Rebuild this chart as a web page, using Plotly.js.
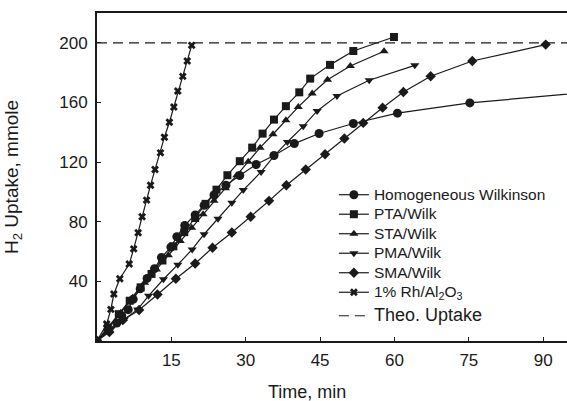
<!DOCTYPE html>
<html>
<head>
<meta charset="utf-8">
<script src="https://cdn.plot.ly/plotly-3.0.1.min.js"></script>
<style>html,body{margin:0;padding:0;background:#fff;}#chart{width:567px;height:401px;}</style>
</head>
<body>
<div id="chart"></div>
<script>
// Homogeneous Wilkinson (circles)
const homX = [0, 2.2, 4, 5, 6.3, 7.3, 8.7, 10.1, 11.6, 13, 14.9, 16.1, 17.7, 19.8, 21.6, 23.6, 26, 28.8, 32.1, 35.7, 39.8, 44.8, 51.7, 60.6, 75.2, 105];
const homY = [0, 7, 12, 17, 21, 28, 35, 42, 48.5, 56, 63, 70, 77.5, 84.5, 91, 98, 104.5, 111, 118.4, 124.4, 132.4, 139.2, 145.9, 152.8, 159.7, 168.6];
// PTA/Wilk (squares)
const ptaX = [0, 2.2, 4.4, 6.6, 8.8, 11, 13.2, 15.4, 17.6, 19.8, 21.9, 24.1, 26.3, 28.8, 31.3, 33.4, 35.7, 38.1, 40.8, 43, 47, 51.7, 59.9];
const ptaY = [0, 9, 18, 27, 36, 45, 54, 63.5, 73, 82.5, 92, 101.5, 111.2, 120.6, 129.7, 139.1, 148.5, 157.5, 166.8, 176, 185.2, 194.5, 203.9];
// STA/Wilk (triangles up)
const staX = [0, 2.4, 4.8, 7.2, 9.6, 12, 14.4, 16.8, 19.1, 21.4, 23.6, 25.9, 28.2, 30.5, 32.9, 35.5, 38.1, 40.6, 43.4, 46.5, 51.1, 57.9];
const staY = [0, 9, 19, 29, 39, 48, 57.5, 67, 76, 85, 94, 102.5, 111.2, 120.2, 129.7, 138.7, 148, 157, 166, 175.2, 184.5, 194.3];
// PMA/Wilk (triangles down)
const pmaX = [0, 2.8, 5.5, 8.2, 10.4, 13.4, 16.3, 19.2, 21.6, 24.4, 27.2, 29.5, 33.1, 35.7, 38.4, 41.6, 44.4, 48.4, 54.9, 64.1];
const pmaY = [0, 8, 14.5, 21.2, 30.3, 41.4, 51.2, 61.4, 71.6, 82, 92.8, 101.2, 113.4, 124, 133.5, 144, 154.3, 164.4, 174.9, 184.9];
// SMA/Wilk (diamonds)
const smaX = [0, 2.5, 5.2, 8.5, 12.2, 15.9, 19.8, 23.3, 27.2, 31, 34.7, 38.2, 42.1, 46, 49.9, 53.7, 57.6, 61.8, 67.3, 75.7, 90.5];
const smaY = [0, 6, 14, 20.8, 31.2, 41.8, 52, 62.5, 72.8, 83.3, 94, 104.5, 115, 125.3, 135.8, 146.3, 156.5, 167, 177.6, 187.8, 198.8];
// 1% Rh/Al2O3 (x)
const rhX = [0, 1.95, 2.8, 3.4, 4.6, 6.5, 7.4, 8.3, 9.1, 10, 10.8, 11.7, 12.8, 13.6, 14.6, 15.5, 16.3, 17.3, 18.2, 19.1];
const rhY = [0, 11.4, 21.2, 31.5, 41.8, 51.6, 61.8, 72.6, 83.3, 94.5, 104.5, 115, 126.2, 136.7, 146.7, 157, 167.7, 177.5, 187.8, 198.3];
// Theoretical uptake
const theoX = [0, 95];
const theoY = [200, 200];

const xTicks = [15, 30, 45, 60, 75, 90];
const yTicks = [40, 80, 120, 160, 200];

const names = ['Homogeneous Wilkinson', 'PTA/Wilk', 'STA/Wilk', 'PMA/Wilk', 'SMA/Wilk', '1% Rh/Al<sub>2</sub>O<sub>3</sub>', 'Theo. Uptake'];
const xTitle = 'Time, min';
const yTitle = 'H<sub>2</sub> Uptake, mmole';
const ink = '#1a1a1a';
const FONT = 'Liberation Sans, Arial, sans-serif';

function big(t, px) { return '<span style="font-size:' + px + 'px">' + t + '</span>'; }

function series(x, y, name, symbol, size) {
  return {
    x: x, y: y, name: big(name, 15.5), type: 'scatter', mode: 'lines+markers',
    legendgroup: 'a',
    line: {color: ink, width: 1.2},
    marker: {symbol: symbol, size: size, color: ink, line: {width: 0}},
    cliponaxis: true
  };
}

const data = [
  series(homX, homY, names[0], 'circle', 9),
  series(ptaX, ptaY, names[1], 'square', 8),
  series(staX, staY, names[2], 'triangle-up', 8),
  series(pmaX, pmaY, names[3], 'triangle-down', 8),
  series(smaX, smaY, names[4], 'diamond', 8),
  series(rhX, rhY, names[5], 'x', 7),
  {x: theoX, y: theoY, name: big(names[6], 18), legendgroup: 'b', type: 'scatter', mode: 'lines',
   line: {color: ink, width: 1.2, dash: '10px,6px'}}
];

const layout = {
  width: 567, height: 401,
  margin: {l: 97, r: 0, t: 13, b: 60, pad: 0},
  paper_bgcolor: '#fff', plot_bgcolor: '#fff',
  font: {family: FONT, size: 14, color: ink},
  showlegend: true,
  legend: {x: 0.504, y: 0.491, xanchor: 'left', yanchor: 'top', bgcolor: 'rgba(0,0,0,0)',
           traceorder: 'grouped',
           font: {family: FONT, size: 12.7, color: ink}, tracegroupgap: 4},
  xaxis: {
    range: [0, 94.8], tickvals: xTicks, ticktext: xTicks.map(String),
    ticks: 'inside', ticklen: 4, tickwidth: 1, tickcolor: ink,
    showline: true, linecolor: ink, linewidth: 2, mirror: true,
    showgrid: false, zeroline: false,
    tickfont: {family: FONT, size: 17, color: ink},
    ticklabelstandoff: 3
  },
  yaxis: {
    range: [0, 220], tickvals: yTicks, ticktext: yTicks.map(String),
    ticks: 'inside', ticklen: 4, tickwidth: 1, tickcolor: ink,
    showline: true, linecolor: ink, linewidth: 2, mirror: false,
    showgrid: false, zeroline: false,
    tickfont: {family: FONT, size: 17, color: ink},
    ticklabelstandoff: 4,
    title: {text: yTitle, font: {family: FONT, size: 19, color: ink}, standoff: 36}
  },
  annotations: [{
    text: xTitle, xref: 'paper', yref: 'paper', x: 0.447, y: -0.155,
    xanchor: 'center', yanchor: 'middle', showarrow: false,
    font: {family: FONT, size: 18, color: ink}
  }]
};

Plotly.newPlot('chart', data, layout, {displayModeBar: false, staticPlot: true});
</script>
</body>
</html>
